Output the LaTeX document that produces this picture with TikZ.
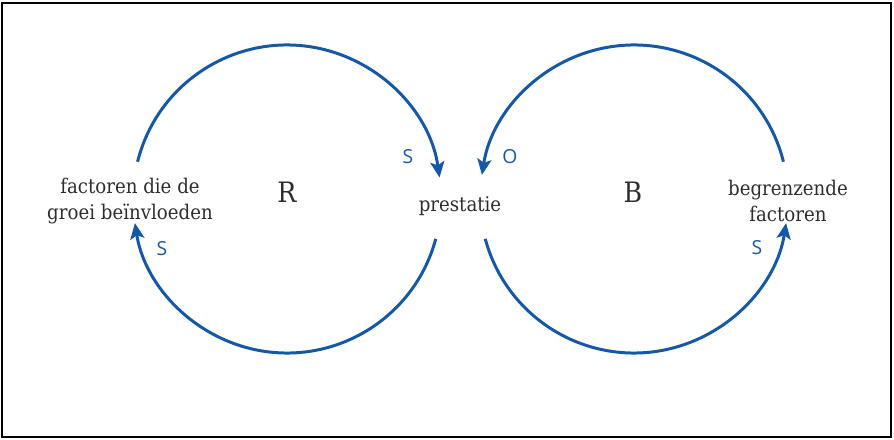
\documentclass[tikz,border=0pt]{standalone}
\usepackage{fontspec}
\setmainfont{DejaVu Serif}[FakeStretch=0.9]
\newfontfamily\signfont{Open Sans}
\usetikzlibrary{arrows.meta, calc}
\definecolor{loopblue}{RGB}{22,88,168}
\definecolor{textgray}{RGB}{45,45,45}

\begin{document}
\begin{tikzpicture}[
    loop/.style={line width=1.7pt, loopblue},
    loopar/.style={loop, -{Stealth[length=9pt, width=8pt, inset=2pt]}},
    var/.style={font=\fontsize{11.5}{14.5}\selectfont, textgray, align=center},
    kind/.style={font=\fontsize{16}{18}\selectfont, textgray},
    sign/.style={font=\signfont\fontsize{11}{12}\selectfont, loopblue}
  ]
    \useasboundingbox (0,0) rectangle (17.88,8.78);
    \draw[line width=0.6pt] (0.04,0.04) rectangle (17.82,8.72);

    %% Loop centres
    \coordinate (rc) at (5.74,4.8);
    \coordinate (bc) at (12.68,4.8);

    %% Variables
    \node[var] (groei) at (2.6,4.76) {factoren die de\\groei beïnvloeden};
    \node[var] (prest) at (9.2,4.66) {prestatie};
    \node[var] (grens) at (15.76,4.76) {begrenzende\\factoren};

    %% Loop types
    \node[kind] (R) at (5.74,4.94) {R};
    \node[kind] (B) at (12.66,4.94) {B};

    %% Arc ends
    \coordinate (r1) at ($(rc)+(166:3.08)$);
    \coordinate (r2) at ($(rc)+(-15:3.08)$);
    \coordinate (b1) at ($(bc)+(14:3.08)$);
    \coordinate (b2) at ($(bc)+(195:3.08)$);

    %% Reinforcing loop
    \draw[loopar] (r1) arc[start angle=166, end angle=8, radius=3.08];
    \draw[loopar] (r2) arc[start angle=-15, end angle=-171, radius=3.08];

    %% Balancing loop
    \draw[loopar] (b1) arc[start angle=14, end angle=171, radius=3.08];
    \draw[loopar] (b2) arc[start angle=195, end angle=351, radius=3.08];

    %% Signs
    \node[sign] (s1) at (8.16,5.64) {S};
    \node[sign] (s2) at (3.24,3.8) {S};
    \node[sign] (o1) at (10.2,5.64) {O};
    \node[sign] (s3) at (15.14,3.82) {S};
  \end{tikzpicture}
\end{document}
